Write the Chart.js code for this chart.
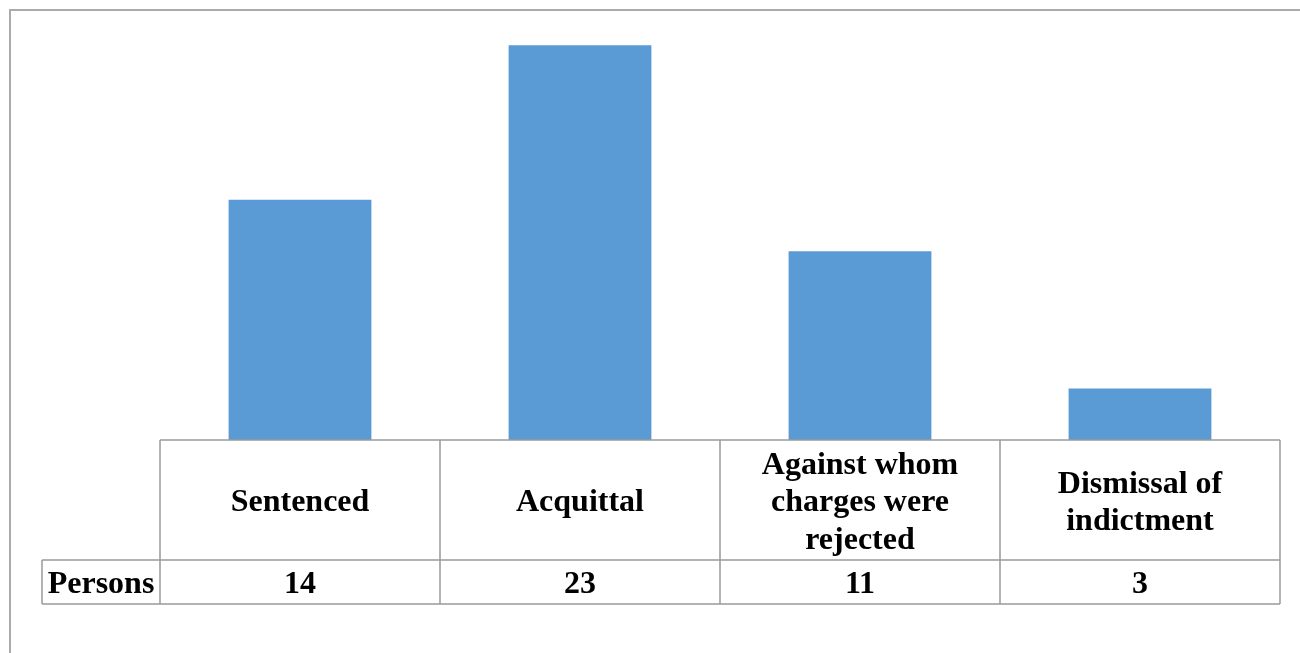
<!DOCTYPE html>
<html>
<head>
<meta charset="utf-8">
<script src="https://cdn.jsdelivr.net/npm/chart.js@4/dist/chart.umd.min.js"></script>
<style>
  html, body { margin: 0; padding: 0; background: #ffffff; }
  #wrap { width: 1300px; height: 653px; position: relative; }
</style>
</head>
<body>
<div id="wrap"><canvas id="outcome_chart"></canvas></div>
<script>
const categories = [
    ['Sentenced'],
    ['Acquittal'],
    ['Against whom', 'charges were', 'rejected'],
    ['Dismissal of', 'indictment']
];
const persons = [14, 23, 11, 3];
const seriesLabel = 'Persons';

const tableFont = 'bold 32px "Liberation Serif", "Times New Roman", serif';
const lineColor = '#9a9a9a';

// draws the outer frame and the data table under the bars
const dataTable = {
    id: 'dataTable',
    afterDraw(chart) {
        const ctx = chart.ctx;
        const area = chart.chartArea;
        const x = chart.scales.x;
        const rowTop = area.bottom;
        const rowMid = rowTop + 120;
        const rowBottom = rowMid + 44;
        const labelLeft = 42;

        ctx.save();
        // frame
        ctx.strokeStyle = '#ababab';
        ctx.lineWidth = 2;
        ctx.beginPath();
        ctx.moveTo(9, 10);
        ctx.lineTo(1300, 10);
        ctx.moveTo(10, 10);
        ctx.lineTo(10, 653);
        ctx.stroke();

        // table grid
        ctx.strokeStyle = lineColor;
        ctx.lineWidth = 1.5;
        ctx.beginPath();
        ctx.moveTo(area.left, rowTop);
        ctx.lineTo(area.right, rowTop);
        ctx.moveTo(labelLeft, rowMid);
        ctx.lineTo(area.right, rowMid);
        ctx.moveTo(labelLeft, rowBottom);
        ctx.lineTo(area.right, rowBottom);
        ctx.moveTo(labelLeft, rowMid);
        ctx.lineTo(labelLeft, rowBottom);
        const step = (area.right - area.left) / categories.length;
        for (let i = 0; i <= categories.length; i++) {
            const gx = area.left + step * i;
            ctx.moveTo(gx, rowTop);
            ctx.lineTo(gx, rowBottom);
        }
        ctx.stroke();

        // text
        ctx.fillStyle = '#000000';
        ctx.font = tableFont;
        ctx.textAlign = 'center';
        ctx.textBaseline = 'middle';
        const lineH = 37.5;
        categories.forEach((lines, i) => {
            const cx = x.getPixelForValue(i);
            const cy = (rowTop + rowMid) / 2 + 3;
            const start = cy - (lines.length - 1) * lineH / 2;
            lines.forEach((t, j) => ctx.fillText(t, cx, start + j * lineH));
            ctx.fillText(String(persons[i]), cx, (rowMid + rowBottom) / 2 + 3);
        });
        ctx.fillText(seriesLabel, (labelLeft + area.left) / 2, (rowMid + rowBottom) / 2 + 3);
        ctx.restore();
    }
};

const outcomeChart = new Chart(document.getElementById('outcome_chart'), {
    type: 'bar',
    data: {
        labels: categories,
        datasets: [{
            label: seriesLabel,
            data: persons,
            backgroundColor: '#5b9bd5',
            borderWidth: 0,
            categoryPercentage: 1,
            barPercentage: 0.51
        }]
    },
    options: {
        responsive: true,
        maintainAspectRatio: false,
        animation: false,
        layout: { padding: { left: 160, right: 20, top: 11, bottom: 213 } },
        plugins: {
            legend: { display: false },
            tooltip: { enabled: false }
        },
        scales: {
            x: { display: false },
            y: { display: false, min: 0, max: 25 }
        }
    },
    plugins: [dataTable]
});
</script>
</body>
</html>
